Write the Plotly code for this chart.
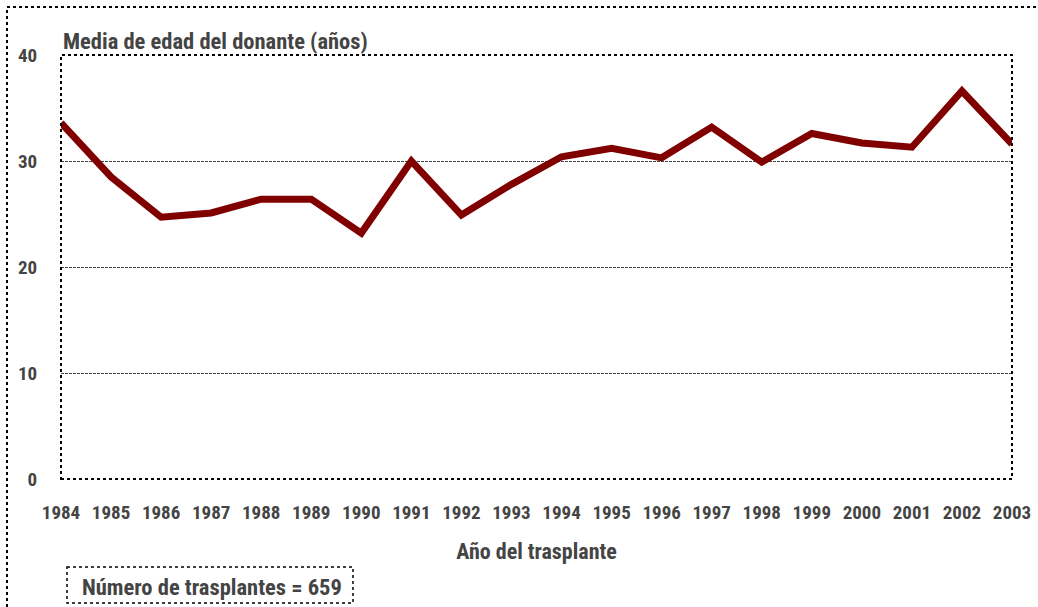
import plotly.graph_objects as go

years = [1984, 1985, 1986, 1987, 1988, 1989, 1990, 1991, 1992, 1993,
         1994, 1995, 1996, 1997, 1998, 1999, 2000, 2001, 2002, 2003]
mean_age = [33.6, 28.5, 24.7, 25.1, 26.4, 26.4, 23.2, 30.0, 24.9, 27.8,
            30.4, 31.2, 30.3, 33.2, 29.9, 32.6, 31.7, 31.3, 36.6, 31.6]
y_ticks = [0, 10, 20, 30, 40]

FONT = "Liberation Sans Narrow, Arial Narrow, Roboto Condensed, Arial, sans-serif"
TXT = "#444444"

fig = go.Figure()
fig.add_trace(go.Scatter(
    x=years, y=mean_age, mode="lines",
    line=dict(color="#800000", width=7),
    hoverinfo="x+y", showlegend=False,
))

W, H = 1038, 607
L, R, T, B = 61, 1012, 55, 479

def px2x(p):
    return (p - L) / (R - L)

def px2y(p):
    return (B - p) / (B - T)

fig.update_layout(
    width=W, height=H,
    margin=dict(l=L, r=W - R, t=T, b=H - B, autoexpand=False),
    paper_bgcolor="white", plot_bgcolor="white",
    font=dict(family=FONT, size=19, color=TXT),
    xaxis=dict(
        range=[1984, 2003], tickmode="array", tickvals=years,
        ticktext=[f"<b>{y}</b>" for y in years],
        showgrid=False, zeroline=False, showline=False,
        ticks="outside", ticklen=16, tickcolor="rgba(0,0,0,0)",
        tickfont=dict(family=FONT, size=19, color=TXT),
        title=dict(text="<b>Año del trasplante</b>", standoff=20,
                   font=dict(family=FONT, size=22, color=TXT)),
        automargin=False,
    ),
    yaxis=dict(
        range=[0, 40], tickmode="array", tickvals=y_ticks,
        ticktext=[f"<b>{v}</b>" for v in y_ticks],
        showgrid=True, gridcolor="#444444", gridwidth=1, griddash="3px,1px",
        zeroline=False, showline=False,
        ticks="outside", ticklen=19, tickcolor="rgba(0,0,0,0)",
        tickfont=dict(family=FONT, size=19, color=TXT),
        automargin=False,
    ),
    shapes=[
        dict(type="rect", xref="paper", yref="paper", x0=0, x1=1, y0=0, y1=1,
             line=dict(color="black", width=2, dash="dot"), layer="above"),
        dict(type="rect", xref="paper", yref="paper",
             x0=px2x(7), x1=px2x(1060), y0=px2y(7), y1=px2y(640),
             line=dict(color="black", width=2, dash="dot")),
        dict(type="rect", xref="paper", yref="paper",
             x0=px2x(67), x1=px2x(353), y0=px2y(567), y1=px2y(603),
             line=dict(color="black", width=1.5, dash="dot")),
    ],
    annotations=[
        dict(text="<b>Media de edad del donante (años)</b>", xref="paper", yref="paper",
             x=0, y=px2y(41), xanchor="left", yanchor="middle", showarrow=False,
             font=dict(family=FONT, size=22.5, color=TXT)),
        dict(text="<b>Número de trasplantes = 659</b>", xref="paper", yref="paper",
             x=px2x(212), y=px2y(587), xanchor="center", yanchor="middle", showarrow=False,
             font=dict(family=FONT, size=22.5, color=TXT)),
    ],
)

fig.write_html("out.html", config={"displayModeBar": False},
               post_script="document.body.style.margin='0';document.body.style.padding='0';")
